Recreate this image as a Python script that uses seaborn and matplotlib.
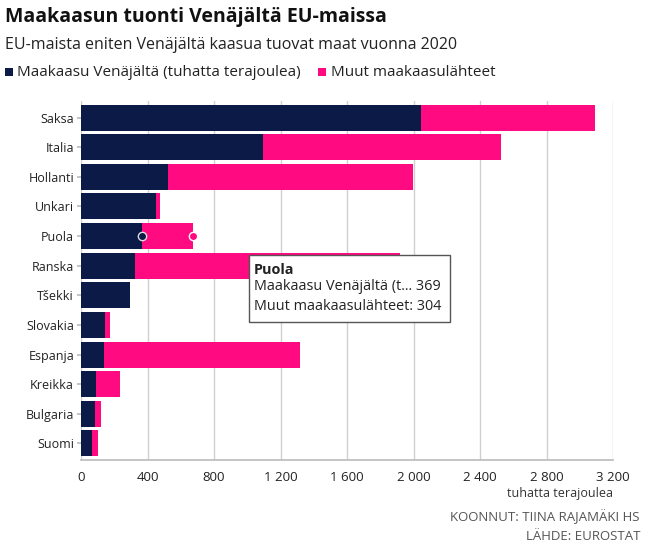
import matplotlib
matplotlib.use("Agg")
import matplotlib.pyplot as plt
import seaborn as sns
import pandas as pd
from matplotlib.patches import Rectangle

countries = ["Saksa", "Italia", "Hollanti", "Unkari", "Puola", "Ranska", "Tšekki",
             "Slovakia", "Espanja", "Kreikka", "Bulgaria", "Suomi"]
russia = [2043, 1093, 524, 451, 369, 323, 294, 143, 139, 91, 84, 66]
other = [1050, 1435, 1471, 27, 304, 1597, 0, 30, 1180, 144, 34, 36]
xticks = [0, 400, 800, 1200, 1600, 2000, 2400, 2800, 3200]
xticklabels = ["0", "400", "800", "1 200", "1 600", "2 000", "2 400", "2 800", "3 200"]
series_names = ["Maakaasu Venäjältä (tuhatta terajoulea)", "Muut maakaasulähteet"]

NAVY = "#0b1a46"
PINK = "#ff0a80"

sns.set_theme(style="white")
plt.rcParams["font.family"] = ["Open Sans", "DejaVu Sans"]

df = pd.DataFrame({"maa": countries, "russia": russia, "other": other})
df["total"] = df["russia"] + df["other"]

fig = plt.figure(figsize=(6.56, 5.49), dpi=100)
ax = fig.add_axes([81 / 656, 1 - 460 / 549, (613 - 81) / 656, (460 - 101) / 549])

sns.barplot(data=df, y="maa", x="total", color=PINK, orient="h", width=0.88,
            saturation=1, ax=ax, zorder=2, linewidth=0)
sns.barplot(data=df, y="maa", x="russia", color=NAVY, orient="h", width=0.88,
            saturation=1, ax=ax, zorder=3, linewidth=0)

ax.set_xlim(0, 3200)
ax.set_ylim(11.56, -0.56)
ax.set_xticks(xticks)
ax.set_xticklabels(xticklabels)
ax.set_xlabel("")
ax.set_ylabel("")
ax.grid(axis="x", color="#d0d0d0", linewidth=1, zorder=0)
ax.set_axisbelow(True)
for s in ["top", "right", "left"]:
    ax.spines[s].set_visible(False)
ax.spines["bottom"].set_color("#bdbdbd")
ax.tick_params(axis="x", length=5, color="#bdbdbd", labelsize=9.5, labelcolor="#222222", pad=3)
ax.tick_params(axis="y", length=3, color="#bdbdbd", labelsize=9, labelcolor="#222222", pad=2,
               left=True)

# hover markers on Puola
pi = countries.index("Puola")
ax.scatter([russia[pi]], [pi], s=36, color=NAVY, edgecolor="#dddddd", linewidth=1, zorder=5)
ax.scatter([russia[pi] + other[pi]], [pi], s=36, color=PINK, edgecolor="#ffffff", linewidth=1, zorder=5)

# tooltip
fig.patches.append(Rectangle((249 / 656, 1 - 322 / 549), (450 - 249) / 656, (322 - 255) / 549,
                             transform=fig.transFigure, facecolor="white", edgecolor="#555555",
                             linewidth=1, zorder=10))
fig.text(254 / 656, 1 - 270 / 549, "Puola", fontsize=10.4, fontweight="bold", color="#222222",
         va="center", ha="left", zorder=11)
fig.text(254 / 656, 1 - 287 / 549, "Maakaasu Venäjältä (t... %d" % russia[pi], fontsize=10.4,
         color="#222222", va="center", ha="left", zorder=11)
fig.text(254 / 656, 1 - 306 / 549, "Muut maakaasulähteet: %d" % other[pi], fontsize=10.4,
         color="#222222", va="center", ha="left", zorder=11)

# title, subtitle, legend
fig.text(5 / 656, 1 - 17 / 549, "Maakaasun tuonti Venäjältä EU-maissa", fontsize=14,
         fontweight="bold", color="#111111", va="center", ha="left")
fig.text(5 / 656, 1 - 45 / 549, "EU-maista eniten Venäjältä kaasua tuovat maat vuonna 2020",
         fontsize=11.5, color="#222222", va="center", ha="left")
fig.patches.append(Rectangle((5 / 656, 1 - 76 / 549), 8 / 656, 8 / 549, transform=fig.transFigure,
                             facecolor=NAVY, edgecolor="none"))
fig.text(17 / 656, 1 - 72 / 549, series_names[0], fontsize=11, color="#222222", va="center", ha="left")
fig.patches.append(Rectangle((318 / 656, 1 - 76 / 549), 8 / 656, 8 / 549, transform=fig.transFigure,
                             facecolor=PINK, edgecolor="none"))
fig.text(331 / 656, 1 - 72 / 549, series_names[1], fontsize=11, color="#222222", va="center", ha="left")

# axis unit and footer
fig.text(613 / 656, 1 - 493 / 549, "tuhatta terajoulea", fontsize=9, color="#333333",
         va="center", ha="right")
fig.text(640 / 656, 1 - 517 / 549, "KOONNUT: TIINA RAJAMÄKI HS", fontsize=9.5, color="#555555",
         va="center", ha="right")
fig.text(640 / 656, 1 - 537 / 549, "LÄHDE: EUROSTAT", fontsize=9.5, color="#555555",
         va="center", ha="right")

fig.savefig("out.png", dpi=100)
